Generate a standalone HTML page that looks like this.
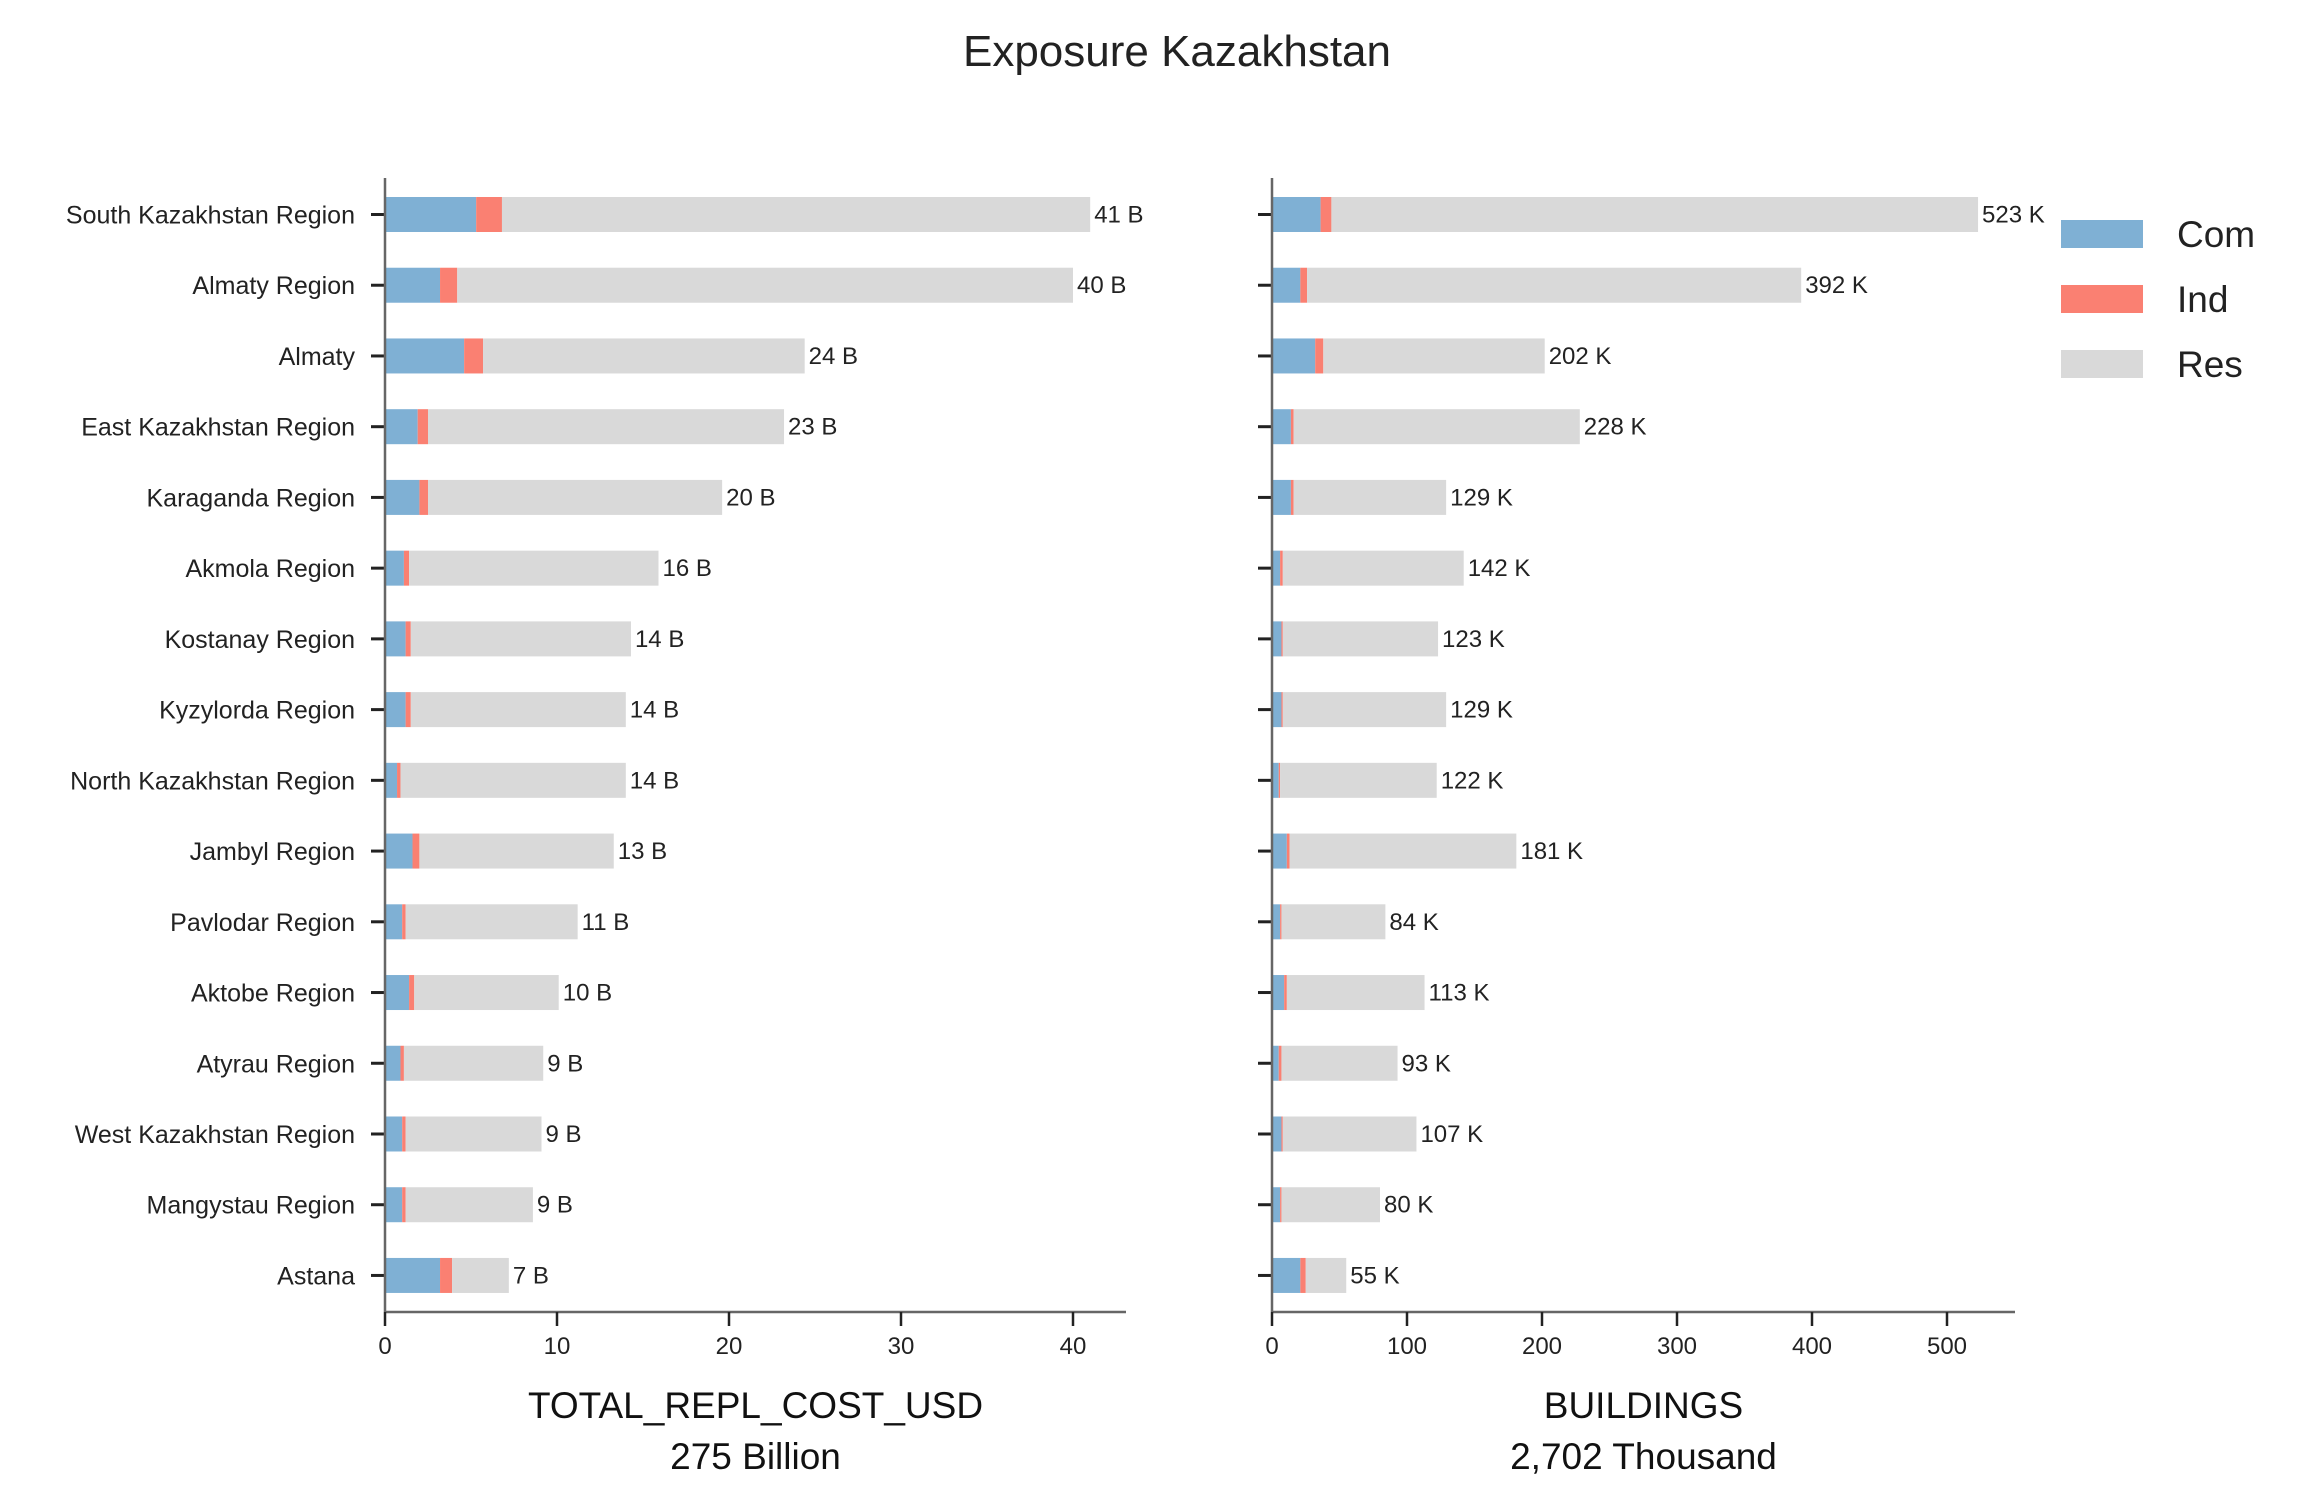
<!DOCTYPE html>
<html><head><meta charset="utf-8"><style>
html,body{margin:0;padding:0;background:#fff;}
svg{display:block;font-family:"Liberation Sans",sans-serif;}
</style></head><body>
<svg id="chart" width="2302" height="1511" viewBox="0 0 2302 1511">
<text x="1177" y="66" text-anchor="middle" font-size="44" fill="#222">Exposure Kazakhstan</text>
<g id="left"></g>
<g id="right"></g>
<g id="legend"></g>
</svg>
<script>
const regions = ["South Kazakhstan Region","Almaty Region","Almaty","East Kazakhstan Region","Karaganda Region","Akmola Region","Kostanay Region","Kyzylorda Region","North Kazakhstan Region","Jambyl Region","Pavlodar Region","Aktobe Region","Atyrau Region","West Kazakhstan Region","Mangystau Region","Astana"];
const costCom = [5.3,3.2,4.6,1.9,2.0,1.1,1.2,1.2,0.7,1.6,1.0,1.4,0.9,1.0,1.0,3.2];
const costInd = [1.5,1.0,1.1,0.6,0.5,0.3,0.3,0.3,0.2,0.4,0.2,0.3,0.2,0.2,0.2,0.7];
const costTotal = [41.0,40.0,24.4,23.2,19.6,15.9,14.3,14.0,14.0,13.3,11.2,10.1,9.2,9.1,8.6,7.2];
const costLabels = ["41 B","40 B","24 B","23 B","20 B","16 B","14 B","14 B","14 B","13 B","11 B","10 B","9 B","9 B","9 B","7 B"];
const bldCom = [36,21,32,14,14,6,7,7,5,11,6,9,5,7,6,21];
const bldInd = [8,5,6,2,2,2,1,1,1,2,1,2,2,1,1,4];
const bldTotal = [523,392,202,228,129,142,123,129,122,181,84,113,93,107,80,55];
const bldLabels = ["523 K","392 K","202 K","228 K","129 K","142 K","123 K","129 K","122 K","181 K","84 K","113 K","93 K","107 K","80 K","55 K"];
const costTicks = [0,10,20,30,40];
const bldTicks = [0,100,200,300,400,500];

const NS="http://www.w3.org/2000/svg";
function mk(tag,attrs,parent){const e=document.createElementNS(NS,tag);for(const k in attrs)e.setAttribute(k,attrs[k]);parent.appendChild(e);return e;}
const axTop=178, axBottom=1312, row0=214.5, rowStep=70.73, barH=35;
const yRow = i => row0 + i*rowStep;
const colors={com:"#7fb0d4",ind:"#fa8072",res:"#d9d9d9"};

function panel(g, x0, xEnd, scale, com, ind, tot, labels, ticks, title1, title2, showNames){
  const xs = v => x0 + v*scale;
  regions.forEach((r,i)=>{
    const y=yRow(i)-barH/2;
    const rc=mk('rect',{x:xs(0),y:y,width:xs(com[i])-xs(0),height:barH,fill:colors.com},g);
    
    
    const ri=mk('rect',{x:xs(com[i]),y:y,width:xs(com[i]+ind[i])-xs(com[i]),height:barH,fill:colors.ind},g);
    
    
    const rr=mk('rect',{x:xs(com[i]+ind[i]),y:y,width:xs(tot[i])-xs(com[i]+ind[i]),height:barH,fill:colors.res},g);
    
    
    const t=mk('text',{x:xs(tot[i])+4,y:yRow(i)+8,'font-size':24,fill:'#222'},g);
    t.textContent=labels[i];
    
    
    mk('line',{x1:x0-14,x2:x0,y1:yRow(i),y2:yRow(i),stroke:'#222','stroke-width':3},g);
    if(showNames){
      const n=mk('text',{x:x0-30,y:yRow(i)+9,'font-size':25,fill:'#222','text-anchor':'end'},g);
      n.textContent=r;
      
      
    }
  });
  mk('line',{x1:x0,x2:x0,y1:axTop,y2:axBottom,stroke:'#666','stroke-width':2.5},g);
  mk('line',{x1:x0,x2:xEnd,y1:axBottom,y2:axBottom,stroke:'#666','stroke-width':2.5},g);
  ticks.forEach(v=>{
    mk('line',{x1:xs(v),x2:xs(v),y1:axBottom,y2:axBottom+14,stroke:'#222','stroke-width':2.5},g);
    const t=mk('text',{x:xs(v),y:axBottom+42,'font-size':24,fill:'#222','text-anchor':'middle'},g);
    t.textContent=v;
    
    
  });
  const cx=(x0+xEnd)/2;
  const a=mk('text',{x:cx,y:1418,'font-size':37,fill:'#111','text-anchor':'middle'},g);
  a.textContent=title1;
  
  
  const b=mk('text',{x:cx,y:1469,'font-size':37,fill:'#111','text-anchor':'middle'},g);
  b.textContent=title2;
  
  
}
panel(document.getElementById('left'),385,1126,17.2,costCom,costInd,costTotal,costLabels,costTicks,"TOTAL_REPL_COST_USD","275 Billion",true);
panel(document.getElementById('right'),1272,2015,1.35,bldCom,bldInd,bldTotal,bldLabels,bldTicks,"BUILDINGS","2,702 Thousand",false);

const lg=document.getElementById('legend');
[["Com",colors.com,234],["Ind",colors.ind,299],["Res",colors.res,364]].forEach(([n,c,y])=>{
  const r=mk('rect',{x:2061,y:y-14,width:82,height:28,fill:c},lg);
  
  
  const t=mk('text',{x:2177,y:y+13,'font-size':37,fill:'#222'},lg);
  t.textContent=n;
  
  
});
</script>
</body></html>
